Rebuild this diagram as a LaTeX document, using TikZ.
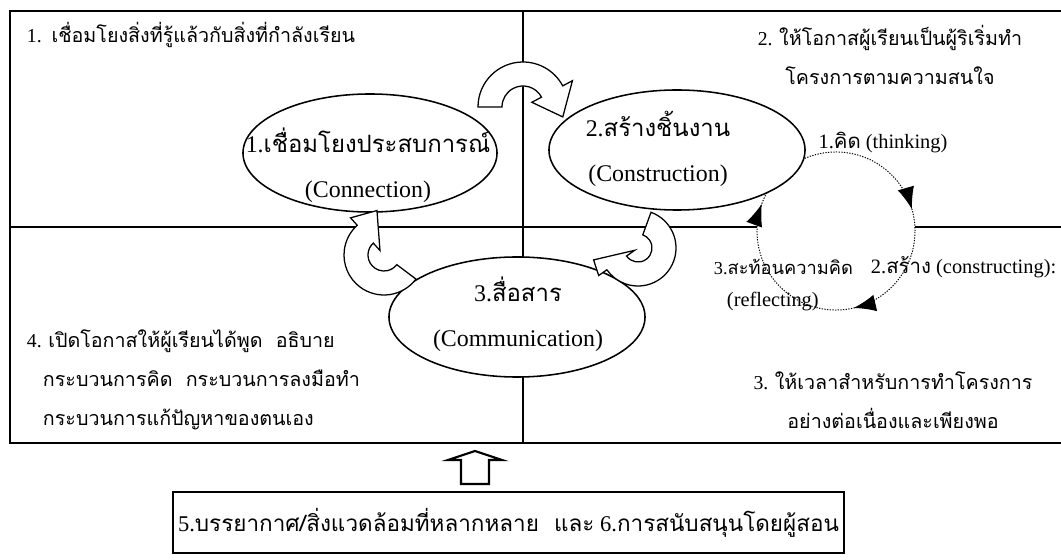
\documentclass[tikz,border=0pt]{standalone}
\usepackage{fontspec}
\setmainfont{Liberation Serif}
\newfontfamily\thaifont[Script=Thai]{Loma}
\usepackage{tikz}
\usetikzlibrary{positioning}
\usetikzlibrary{shapes,arrows.meta}
\newcommand{\thaitxt}[1]{{\thaifont #1}}
\newcommand{\bentarrow}[8]{%
\pgfmathsetmacro\bro{#6+#7}\pgfmathsetmacro\bri{#6-#7}%
\pgfmathsetmacro\bho{#6+#8}\pgfmathsetmacro\bhi{#6-#8}%
\draw[bent,shift={#1}] (#2:\bro) arc[start angle=#2,end angle=#3,radius=\bro] -- (#3:\bho) -- (#4:#5) -- (#3:\bhi) -- (#3:\bri) arc[start angle=#3,end angle=#2,radius=\bri] -- cycle;}
\tikzset{
frame/.style={line width=1.5pt},
bubble/.style={ellipse,draw,fill=white,line width=1.1pt,inner sep=0pt},
bent/.style={draw,fill=white,line width=0.9pt,line join=miter},
cyc/.style={dash pattern=on 0.9pt off 1pt,line width=0.7pt},
big/.style={font=\fontsize{17}{32}\selectfont,align=center},
quad/.style={font=\fontsize{14}{28}\selectfont},
cyclabel/.style={font=\fontsize{14.5}{18}\selectfont},
tip/.style={-{Latex[length=0.55cm,width=0.42cm]},line width=0.7pt}
}
\begin{document}
\begin{tikzpicture}[x=0.025cm,y=0.025cm]
\useasboundingbox (0,0) rectangle (1061,560);
\draw[frame] (10,117) rectangle (1075,549);
\draw[frame] (523,117) -- (523,549);
\draw[frame] (10,333) -- (1075,333);

\node[circle,draw,cyc,fill=white,minimum size=3.95cm,inner sep=0pt] (think) at (836,329) {};
\node[bubble,minimum width=6.35cm,minimum height=2.95cm] (conn) at (370,407) {};
\node[bubble,minimum width=6.4cm,minimum height=3cm] (cons) at (677,410) {};
\node[bubble,minimum width=6.4cm,minimum height=3cm] (comm) at (517,243) {};

\node[big] (conn-t) at (368,395) {1.\thaitxt{เชื่อมโยงประสบการณ์}\\(Connection)};
\node[big] (cons-t) at (658,411) {2.\thaitxt{สร้างชิ้นงาน}\\(Construction)};
\node[big] (comm-t) at (518,246) {3.\thaitxt{สื่อสาร}\\(Communication)};

\bentarrow{(523,453)}{180}{28}{-14}{41}{33}{12}{23}
\bentarrow{(384,305)}{-37}{-228}{-261}{45}{28}{12}{22}
\bentarrow{(638,312)}{70}{-145}{-165}{46}{26}{12}{22}

\draw[tip] (think.center) ++(30:79) arc[start angle=30,end angle=16,radius=79];
\draw[tip] (think.center) ++(-63:79) arc[start angle=-63,end angle=-77,radius=79];
\draw[tip] (think.center) ++(174:79) arc[start angle=174,end angle=160,radius=79];

\node[cyclabel] (l1) at (883,417) {1.\thaitxt{คิด} (thinking)};
\node[cyclabel,anchor=west] (l2) at (866,293) {2.\thaitxt{สร้าง} (constructing):};
\node[cyclabel,anchor=east,font=\fontsize{13}{18}\selectfont] (l3) at (858,293) {3.\thaitxt{สะท้อนความคิด}};
\node[cyclabel,anchor=west] (l4) at (722,258) {(reflecting)};

\node[quad,anchor=west] (q1) at (22,525) {1.\ \ \thaitxt{เชื่อมโยงสิ่งที่รู้แล้วกับสิ่งที่กำลังเรียน}};
\node[quad,align=center] (q2) at (890,505) {2. \thaitxt{ให้โอกาสผู้เรียนเป็นผู้ริเริ่มทำ}\\\thaitxt{โครงการตามความสนใจ}};
\node[quad,align=center] (q3) at (893,160) {3. \thaitxt{ให้เวลาสำหรับการทำโครงการ}\\\thaitxt{อย่างต่อเนื่องและเพียงพอ}};
\node[quad,align=left,anchor=west] (q4) at (22,180) {4. \thaitxt{เปิดโอกาสให้ผู้เรียนได้พูด\ \ อธิบาย}\\\hspace{0.4cm}\thaitxt{กระบวนการคิด\ \ กระบวนการลงมือทำ}\\\hspace{0.4cm}\thaitxt{กระบวนการแก้ปัญหาของตนเอง}};

\draw[frame,fill=white] (461,76) -- (461,100) -- (448,100) -- (475,109) -- (502,100) -- (489,100) -- (489,76) -- cycle;
\node[draw,frame,font=\fontsize{16}{28}\selectfont,minimum width=16.475cm,minimum height=1.525cm] (env) at (508.5,37.5) {5.\thaitxt{บรรยากาศ/สิ่งแวดล้อมที่หลากหลาย\ \ และ} 6.\thaitxt{การสนับสนุนโดยผู้สอน}};
\end{tikzpicture}
\end{document}
